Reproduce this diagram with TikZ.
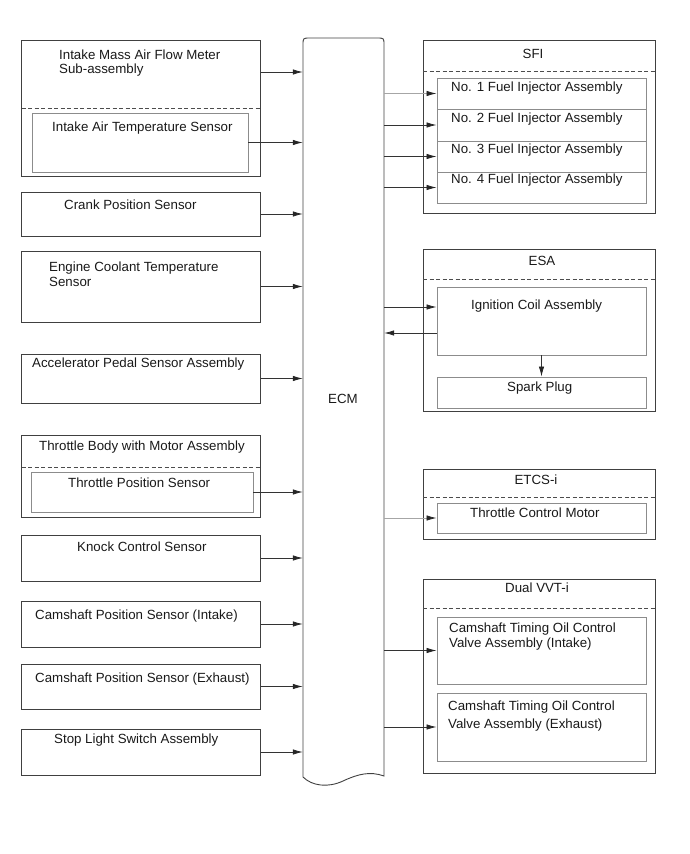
\documentclass[tikz,border=0pt]{standalone}
\usepackage{fontspec}
\setmainfont{Liberation Sans}
\usetikzlibrary{arrows.meta}

\tikzset{
  box/.style={draw=black!75, line width=0.9pt, inner sep=0pt},
  inbox/.style={draw=black!45, line width=0.9pt, inner sep=0pt},
  sep/.style={draw=black!70, line width=0.8pt, dash pattern=on 4pt off 2.5pt},
  sig/.style={draw=black!80, line width=0.8pt, -{Latex[length=10pt,width=5.5pt,color=black!85]}},
  sigl/.style={sig, draw=black!35},
  txt/.style={inner sep=0pt, anchor=base west, align=left, text=black!90},
  ttl/.style={inner sep=0pt, anchor=base, text=black!90},
}

\begin{document}
\begin{tikzpicture}[x=1pt, y=-1pt, font=\fontsize{13.3}{15}\selectfont]
    \useasboundingbox (0,0) rectangle (690,854);

    % ECM body (rounded top, torn bottom)
    \node[minimum width=81, minimum height=739, inner sep=0pt] (ecm) at (343.5,407.5) {};
    \draw[black!75, line width=0.9pt] (303,777) -- (303,45) .. controls (303,38) .. (310,38)
        -- (377,38) .. controls (384,38) .. (384,45) -- (384,776)
        .. controls (370,771) and (358,774) .. (343,781)
        .. controls (328,788) and (312,786) .. (303,777);
    \node[ttl] (ecm-t) at (343,403.5) {ECM};

    % Sensors (left column)
    \node[box, minimum width=239, minimum height=136] (imaf) at (141,108) {};
    \draw[sep] (21.5,108) -- (260.5,108);
    \node[inbox, minimum width=216, minimum height=59] (iat) at (140,142.5) {};
    \node[txt] (imaf-t) at (59,73) {Intake Mass Air Flow Meter\\[-1.5pt]Sub-assembly};
    \node[txt] (iat-t) at (52,131) {Intake Air Temperature Sensor};

    \node[box, minimum width=239, minimum height=44] (crank) at (141,214) {};
    \node[txt] (crank-t) at (64,209.5) {Crank Position Sensor};

    \node[box, minimum width=239, minimum height=71] (ect) at (141,286.5) {};
    \node[txt] (ect-t) at (49,286.5) {Engine Coolant Temperature\\Sensor};

    \node[box, minimum width=239, minimum height=49] (apps) at (141,378.5) {};
    \node[txt] (apps-t) at (32,367.5) {Accelerator Pedal Sensor Assembly};

    \node[box, minimum width=239, minimum height=82] (tbody) at (141,476) {};
    \draw[sep] (21.5,467) -- (260.5,467);
    \node[inbox, minimum width=222, minimum height=40] (tps) at (142,492) {};
    \node[txt] (tbody-t) at (39,450.5) {Throttle Body with Motor Assembly};
    \node[txt] (tps-t) at (68,487.5) {Throttle Position Sensor};

    \node[box, minimum width=239, minimum height=46] (knock) at (141,558) {};
    \node[txt] (knock-t) at (77,551.5) {Knock Control Sensor};

    \node[box, minimum width=239, minimum height=46] (camin) at (141,624) {};
    \node[txt] (camin-t) at (35,619.5) {Camshaft Position Sensor (Intake)};

    \node[box, minimum width=239, minimum height=45] (camex) at (141,686.5) {};
    \node[txt] (camex-t) at (35,682.5) {Camshaft Position Sensor (Exhaust)};

    \node[box, minimum width=239, minimum height=46] (stop) at (141,752) {};
    \node[txt] (stop-t) at (54,743.5) {Stop Light Switch Assembly};

    % Sensor signals into ECM
    \coordinate (imafout) at ([yshift=36pt]imaf.east);
    \draw[sig] (imafout) -- (imafout -| ecm.west);
    \foreach \s in {iat, crank, ect, apps, tps, knock, camin, camex, stop}
        \draw[sig] (\s.east) -- (\s.east -| ecm.west);

    % Actuators (right column)
    % SFI
    \node[box, minimum width=232, minimum height=173] (sfi) at (539,126.5) {};
    \draw[sep] (423,71) -- (655,71);
    \node[ttl] (sfi-t) at (533,58.5) {SFI};
    \node[inbox, minimum width=209, minimum height=31] (inj1) at (541.5,93.5) {};
    \node[inbox, minimum width=209, minimum height=32] (inj2) at (541.5,125) {};
    \node[inbox, minimum width=209, minimum height=31] (inj3) at (541.5,156.5) {};
    \node[inbox, minimum width=209, minimum height=31] (inj4) at (541.5,187.5) {};
    \node[txt] (inj1-t) at (451,91.5) {No. 1 Fuel Injector Assembly};
    \node[txt] (inj2-t) at (451,122.5) {No. 2 Fuel Injector Assembly};
    \node[txt] (inj3-t) at (451,153) {No. 3 Fuel Injector Assembly};
    \node[txt] (inj4-t) at (451,183.5) {No. 4 Fuel Injector Assembly};

    % ESA
    \node[box, minimum width=232, minimum height=162] (esa) at (539,330) {};
    \draw[sep] (423,279) -- (655,279);
    \node[ttl] (esa-t) at (542,265.5) {ESA};
    \node[inbox, minimum width=209, minimum height=68] (coil) at (541.5,321) {};
    \node[inbox, minimum width=209, minimum height=31] (plug) at (541.5,392.5) {};
    \node[txt] (coil-t) at (471,309.5) {Ignition Coil Assembly};
    \node[txt] (plug-t) at (507,391.5) {Spark Plug};

    % ETCS-i
    \node[box, minimum width=232, minimum height=70] (etcs) at (539,504) {};
    \draw[sep] (423,497) -- (655,497);
    \node[ttl] (etcs-t) at (536,484.5) {ETCS-i};
    \node[inbox, minimum width=209, minimum height=30] (motor) at (541.5,518) {};
    \node[txt] (motor-t) at (470,517.5) {Throttle Control Motor};

    % Dual VVT-i
    \node[box, minimum width=232, minimum height=194] (vvt) at (539,676) {};
    \draw[sep] (423,608) -- (655,608);
    \node[ttl] (vvt-t) at (537,592.5) {Dual VVT-i};
    \node[inbox, minimum width=209, minimum height=67] (ocvin) at (541.5,650.5) {};
    \node[inbox, minimum width=209, minimum height=68] (ocvex) at (541.5,727) {};
    \node[txt] (ocvin-t) at (449,647.5) {Camshaft Timing Oil Control\\Valve Assembly (Intake)};
    \node[txt] (ocvex-t) at (448,728) {Camshaft Timing Oil Control\\[3pt]Valve Assembly (Exhaust)};

    % ECM outputs
    \draw[sigl] (inj1.west -| ecm.east) -- (inj1.west);
    \foreach \a in {inj2, inj3, inj4, ocvin, ocvex}
        \draw[sig] (\a.west -| ecm.east) -- (\a.west);
    \draw[sigl] (motor.west -| ecm.east) -- (motor.west);
    \coordinate (coilin) at ([yshift=14pt]coil.west);
    \coordinate (coilout) at ([yshift=-12pt]coil.west);
    \draw[sig] (coilin -| ecm.east) -- (coilin);
    \draw[sig] (coilout) -- (coilout -| ecm.east);
    \draw[sig] (coil) -- (plug);
\end{tikzpicture}
\end{document}
